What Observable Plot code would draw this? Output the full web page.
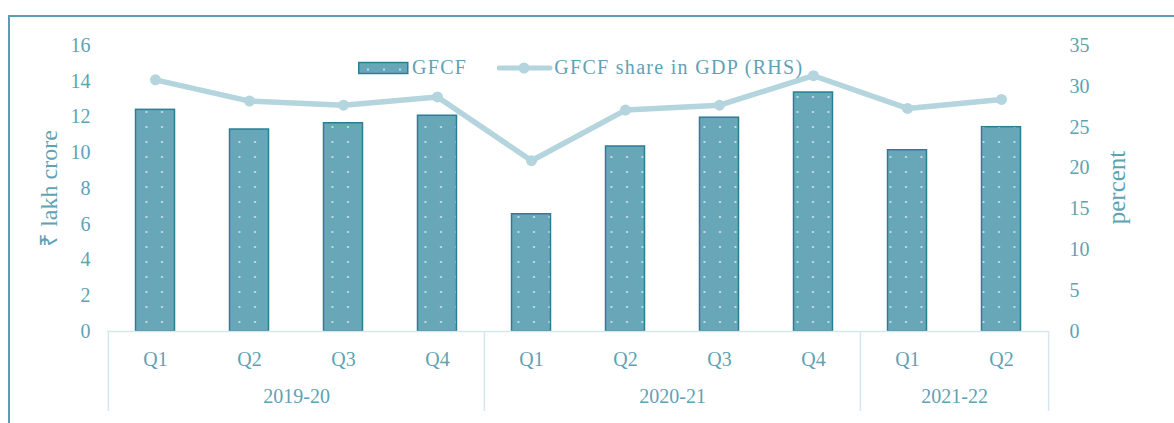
<!DOCTYPE html>
<html>
<head>
<meta charset="utf-8">
<script src="https://cdn.jsdelivr.net/npm/d3@7"></script>
<script src="https://cdn.jsdelivr.net/npm/@observablehq/plot@0.6"></script>
<style>
  html, body { margin: 0; padding: 0; background: #fff; }
  #wrap { position: relative; width: 1174px; height: 423px; overflow: hidden; font-family: "Liberation Serif", serif; }
  #frame { position: absolute; left: 8px; top: 15px; width: 1180px; height: 420px; border-left: 2.5px solid #5a9db0; border-top: 2.5px solid #5a9db0; box-sizing: border-box; }
  #legend { position: absolute; left: 358px; top: 56px; display: flex; align-items: center; font-size: 20px; letter-spacing: 1.3px; color: #5fa2b4; white-space: nowrap; }
  #legend svg { display: block; }
</style>
</head>
<body>
<div id="wrap">
  <div id="frame"></div>
  <div id="chart"></div>
  <div id="legend"></div>
</div>
<script>
// ---- data ----
const years    = ["2019-20","2019-20","2019-20","2019-20","2020-21","2020-21","2020-21","2020-21","2021-22","2021-22"];
const quarters = ["Q1","Q2","Q3","Q4","Q1","Q2","Q3","Q4","Q1","Q2"];
const gfcf     = [12.40, 11.30, 11.65, 12.07, 6.56, 10.35, 11.96, 13.37, 10.14, 11.43]; // ₹ lakh crore
const share    = [30.8, 28.2, 27.7, 28.7, 20.9, 27.1, 27.7, 31.3, 27.3, 28.4];          // percent (RHS)
const leftTicks  = [0, 2, 4, 6, 8, 10, 12, 14, 16];
const rightTicks = [0, 5, 10, 15, 20, 25, 30, 35];
const yearGroups = ["2019-20", "2020-21", "2021-22"];

// ---- styles ----
const W = 1174, H = 423;
const mL = 107, mR = 125, mT = 45, mB = 92;
const textColor = "#5fa2b4";
const barStroke = "#2c7e93";
const lineColor = "#b4d5dd";
const axisLine  = "#d3e7ec";
const yMaxL = 16, yMaxR = 35;
const k = yMaxL / yMaxR;
const ls = 0.8;

const data = years.map((y, i) => ({key: y + " " + quarters[i], year: y, q: quarters[i], gfcf: gfcf[i], share: share[i]}));
const keys = data.map(d => d.key);

const xs = Plot.scale({x: {type: "band", domain: keys, range: [mL, W - mR], padding: 0}});
const half = xs.step / 2;
const pxPerUnit = (H - mB - mT) / yMaxL;
const axisDepth = 80; // px below baseline for category box
const yBelow = -axisDepth / pxPerUnit;

const groupStarts = yearGroups.map(g => data.find(d => d.year === g).key);
const lastKey = keys[keys.length - 1];
const yearLabels = yearGroups.map(g => {
  const ks = data.filter(d => d.year === g).map(d => d.key);
  const idx = ks.length / 2 - 1;
  return {year: g, key: ks[Math.floor(idx)], dx: Number.isInteger(idx) ? half : 0};
});

const chart = Plot.plot({
  width: W, height: H,
  marginLeft: mL, marginRight: mR, marginTop: mT, marginBottom: mB,
  style: {fontFamily: "Liberation Serif, serif", fontSize: "20px", color: textColor, background: "transparent", overflow: "visible"},
  x: {type: "band", domain: keys, padding: 0, axis: null},
  y: {domain: [0, yMaxL], axis: null},
  marks: [
    Plot.barY(data, {x: "key", y: "gfcf", fill: "url(#dots)", stroke: barStroke, strokeWidth: 1.5, insetLeft: 27.5, insetRight: 27.5}),
    Plot.line(data, {x: "key", y: d => d.share * k, stroke: lineColor, strokeWidth: 5.5}),
    Plot.dot(data, {x: "key", y: d => d.share * k, r: 5.5, fill: lineColor, stroke: "none"}),
    // category box
    Plot.ruleY([0], {stroke: axisLine, strokeWidth: 1.5}),
    Plot.ruleX(groupStarts, {x: d => d, dx: -half, y1: 0, y2: yBelow, stroke: axisLine, strokeWidth: 1.5, clip: false}),
    Plot.ruleX([lastKey], {x: d => d, dx: half, y1: 0, y2: yBelow, stroke: axisLine, strokeWidth: 1.5, clip: false}),
    Plot.text(data, {x: "key", y: 0, text: "q", dy: 28, fill: textColor, fontSize: 20, letterSpacing: ls}),
    ...yearLabels.map(g => Plot.text([g], {x: "key", y: 0, text: "year", dx: g.dx, dy: 65, fill: textColor, fontSize: 20, letterSpacing: ls})),
    // left axis
    Plot.axisY({ticks: leftTicks, anchor: "left", tickSize: 0, tickPadding: 17, fill: textColor, fontSize: 20, label: null}),
    // right axis (percent)
    Plot.axisY({ticks: rightTicks.map(v => v * k), tickFormat: v => String(Math.round(v / k)), anchor: "right", tickSize: 0, tickPadding: 20, fill: textColor, fontSize: 20, label: null}),
    Plot.text(["₹ lakh crore"], {frameAnchor: "left", text: d => d, rotate: -90, textAnchor: "middle", dx: -58, fill: textColor, fontSize: 24, letterSpacing: 0.5}),
    Plot.text(["percent"], {frameAnchor: "right", text: d => d, rotate: -90, textAnchor: "middle", dx: 67, dy: -1, fill: textColor, fontSize: 25, letterSpacing: 1})
  ]
});

// pattern for dotted bars
const defs = d3.select(chart).insert("defs", ":first-child");
const pat = defs.append("pattern").attr("id", "dots").attr("patternUnits", "userSpaceOnUse")
  .attr("width", 15.5).attr("height", 15).attr("x", 2).attr("y", 0);
pat.append("rect").attr("width", 15.5).attr("height", 15).attr("fill", "#68a7b7");
pat.append("circle").attr("cx", 5).attr("cy", 7).attr("r", 1.1).attr("fill", "#d2e6eb");

document.getElementById("chart").appendChild(chart);

// legend
const legend = d3.select("#legend");
const s1 = legend.append("svg").attr("width", 54).attr("height", 14);
s1.append("defs").append("pattern").attr("id", "dotsL").attr("patternUnits", "userSpaceOnUse")
  .attr("width", 16).attr("height", 12)
  .call(p => { p.append("rect").attr("width", 16).attr("height", 12).attr("fill", "#68a7b7");
               p.append("circle").attr("cx", 10).attr("cy", 8.5).attr("r", 1).attr("fill", "#d2e6eb"); });
s1.append("rect").attr("x", 0.75).attr("y", 1.5).attr("width", 49).attr("height", 11)
  .attr("fill", "url(#dotsL)").attr("stroke", barStroke).attr("stroke-width", 1.5);
legend.append("span").text("GFCF").style("margin-right", "30px");
const s2 = legend.append("svg").attr("width", 57).attr("height", 14);
s2.append("line").attr("x1", 2).attr("x2", 53).attr("y1", 7).attr("y2", 7).attr("stroke", lineColor).attr("stroke-width", 5).attr("stroke-linecap", "round");
s2.append("circle").attr("cx", 27).attr("cy", 7).attr("r", 5.5).attr("fill", lineColor);
legend.append("span").text("GFCF share in GDP (RHS)");
</script>
</body>
</html>
